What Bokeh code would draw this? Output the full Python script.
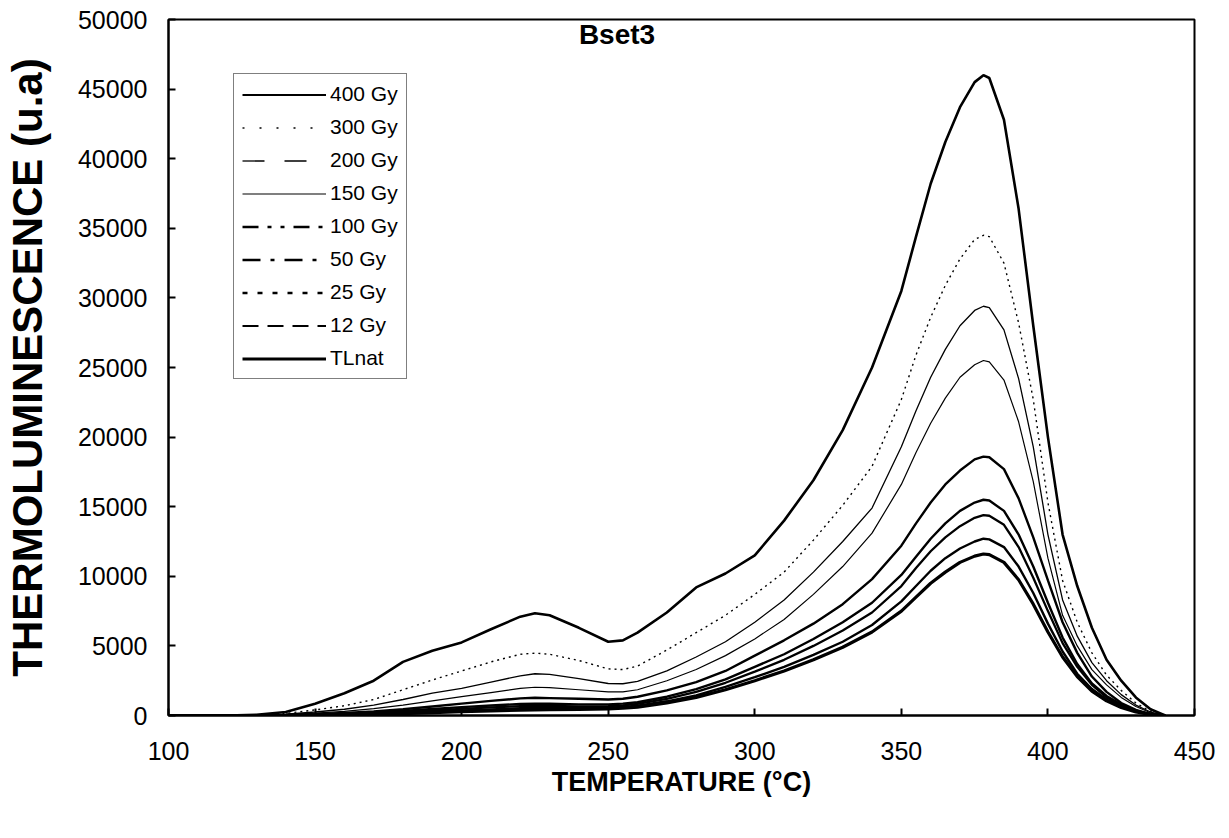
from bokeh.plotting import figure
from bokeh.models import Legend, LegendItem, Label, Range1d, FixedTicker, NumeralTickFormatter
from bokeh.embed import file_html
from bokeh.resources import INLINE

# ---------------- data ----------------
temperature = [100, 120, 130, 140, 150, 160, 170, 180, 190, 200,
               210, 220, 225, 230, 240, 250, 255, 260, 270, 280,
               290, 300, 310, 320, 330, 340, 350, 355, 360, 365,
               370, 375, 378, 380, 385, 390, 395, 400, 405, 410,
               415, 420, 425, 430, 435, 440]

gy400 = [0, 0, 50, 250, 850, 1600, 2500, 3850, 4650, 5250,
         6200, 7100, 7350, 7200, 6300, 5300, 5400, 5950, 7400, 9200,
         10200, 11500, 14000, 16900, 20500, 25000, 30500, 34400, 38200, 41200,
         43700, 45500, 46000, 45800, 42800, 36400, 28000, 20000, 13000, 9300,
         6300, 4000, 2500, 1300, 450, 0]

gy300 = [0, 0, 30, 150, 400, 700, 1150, 1850, 2550, 3200,
         3850, 4400, 4480, 4400, 3950, 3350, 3300, 3550, 4700, 5950,
         7200, 8700, 10300, 12600, 15100, 17900, 22700, 25900, 28600, 30900,
         32800, 34200, 34500, 34400, 32500, 28200, 22700, 15300, 9700, 6700,
         4500, 2900, 1800, 900, 300, 0]

gy200 = [0, 0, 20, 100, 250, 450, 750, 1150, 1600, 1950,
         2400, 2850, 3000, 2950, 2650, 2300, 2280, 2450, 3200, 4200,
         5300, 6700, 8300, 10300, 12500, 14900, 19300, 21900, 24300, 26300,
         28000, 29100, 29400, 29300, 27700, 24200, 19300, 13000, 8300, 5700,
         3800, 2500, 1500, 750, 250, 0]

gy150 = [0, 0, 15, 70, 170, 300, 500, 750, 1050, 1350,
         1650, 1950, 2030, 2000, 1850, 1700, 1700, 1850, 2500, 3300,
         4300, 5500, 6900, 8700, 10700, 13100, 16600, 18900, 21000, 22800,
         24300, 25200, 25500, 25400, 24100, 21100, 16800, 11300, 7200, 5000,
         3300, 2200, 1300, 650, 200, 0]

gy100 = [0, 0, 10, 40, 100, 180, 300, 450, 650, 850,
         1050, 1230, 1270, 1250, 1200, 1150, 1200, 1350, 1800, 2400,
         3200, 4300, 5400, 6600, 8000, 9800, 12200, 13800, 15300, 16600,
         17600, 18400, 18600, 18550, 17700, 15600, 12800, 9700, 6700, 4500,
         2800, 1700, 900, 400, 100, 0]

gy50 = [0, 0, 5, 30, 70, 130, 220, 330, 470, 600,
        720, 830, 850, 840, 800, 800, 850, 950, 1350, 1900,
        2600, 3500, 4400, 5500, 6700, 8100, 10100, 11400, 12700, 13800,
        14700, 15300, 15500, 15450, 14700, 13000, 10700, 8100, 5600, 3700,
        2300, 1400, 780, 340, 90, 0]

gy25 = [0, 0, 0, 20, 50, 100, 170, 260, 370, 480,
        580, 670, 700, 690, 660, 680, 730, 830, 1200, 1700,
        2350, 3150, 4000, 5000, 6100, 7400, 9300, 10600, 11800, 12800,
        13600, 14200, 14400, 14350, 13700, 12100, 9900, 7500, 5200, 3500,
        2200, 1300, 720, 320, 90, 0]

gy12 = [0, 0, 0, 15, 35, 70, 120, 190, 270, 360,
        440, 520, 540, 540, 530, 560, 610, 700, 1020, 1450,
        2050, 2750, 3500, 4350, 5300, 6500, 8200, 9300, 10400, 11300,
        12000, 12500, 12700, 12650, 12100, 10700, 8800, 6600, 4600, 3000,
        1900, 1150, 640, 280, 80, 0]

tlnat = [0, 0, 0, 10, 25, 50, 90, 140, 200, 270,
         330, 390, 410, 420, 430, 470, 520, 600, 900, 1300,
         1850, 2500, 3200, 4000, 4900, 6000, 7500, 8500, 9500, 10300,
         11000, 11450, 11600, 11560, 11000, 9750, 8000, 6000, 4200, 2800,
         1750, 1050, 580, 250, 70, 0]

labels = ["400 Gy", "300 Gy", "200 Gy", "150 Gy", "100 Gy", "50 Gy", "25 Gy", "12 Gy", "TLnat"]
values = [gy400, gy300, gy200, gy150, gy100, gy50, gy25, gy12, tlnat]

x_ticks = [100, 150, 200, 250, 300, 350, 400, 450]
y_ticks = [0, 5000, 10000, 15000, 20000, 25000, 30000, 35000, 40000, 45000, 50000]

# ---------------- styles ----------------
# (curve dash, curve width, legend dash, legend width)
styles = [("solid", 2.6, "solid", 2.2),
          ("2 4", 1.4, "2 15", 1.4),
          ("solid", 1.3, "22 20", 1.3),
          ("solid", 1.2, "solid", 1.1),
          ("solid", 2.4, "16 9 4 9 4 9", 2.4),
          ("solid", 2.4, "18 10 4 10", 2.6),
          ("solid", 2.3, "5 10", 2.6),
          ("solid", 2.4, "16 9", 2.2),
          ("solid", 3.2, "solid", 3.0)]

FONT = "Liberation Sans"

p = figure(width=1221, height=830, output_backend="svg", toolbar_location=None,
           x_range=Range1d(100, 450), y_range=Range1d(0, 50000),
           min_border_left=167, min_border_right=27, min_border_top=19, min_border_bottom=115)
p.background_fill_color = "white"
p.border_fill_color = "white"
p.outline_line_color = "black"
p.outline_line_width = 2
p.xgrid.visible = False
p.ygrid.visible = False

for ax in (p.xaxis[0], p.yaxis[0]):
    ax.axis_line_width = 2
    ax.axis_line_color = "black"
    ax.major_tick_in = 7
    ax.major_tick_out = 0
    ax.major_tick_line_width = 2
    ax.major_tick_line_color = "black"
    ax.minor_tick_line_color = None
    ax.major_label_text_font = FONT
    ax.major_label_text_font_size = "25px"
    ax.major_label_text_color = "black"
    ax.axis_label_text_font = FONT
    ax.axis_label_text_font_style = "bold"
    ax.axis_label_text_color = "black"

p.xaxis.ticker = FixedTicker(ticks=x_ticks)
p.yaxis.ticker = FixedTicker(ticks=y_ticks)
p.yaxis.formatter = NumeralTickFormatter(format="0")
p.xaxis.major_label_standoff = 26
p.yaxis.major_label_standoff = 21
p.xaxis.axis_label = "TEMPERATURE (°C)"
p.xaxis.axis_label_text_font_size = "27px"
p.xaxis.axis_label_standoff = 4
p.yaxis.axis_label = "THERMOLUMINESCENCE (u.a)"
p.yaxis.axis_label_text_font_size = "42px"
p.yaxis.axis_label_standoff = 24

items = []
for lab, vals, (cdash, cw, ldash, lw) in zip(labels, values, styles):
    p.line(temperature, vals, line_color="black", line_width=cw, line_dash=cdash)
    # one-point line: draws nothing in the plot, only gives the legend its dash sample
    r = p.line(temperature[:1], vals[:1], line_color="black", line_width=lw, line_dash=ldash)
    items.append(LegendItem(label=lab, renderers=[r]))

legend = Legend(items=items, location=(65, 336), orientation="vertical")
legend.margin = 0
legend.padding = 8
legend.spacing = 9
legend.label_height = 21
legend.glyph_height = 21
legend.glyph_width = 84
legend.label_standoff = 4
legend.label_text_font = FONT
legend.label_text_font_size = "21px"
legend.label_text_color = "black"
legend.border_line_color = "black"
legend.border_line_width = 1
legend.background_fill_color = "white"
legend.background_fill_alpha = 1.0
p.add_layout(legend, "center")

title = Label(x=253, y=48890, text="Bset3", text_font=FONT, text_font_size="28px",
              text_font_style="bold", text_align="center", text_baseline="middle",
              text_color="black")
p.add_layout(title)

open("out.html", "w").write(file_html(p, INLINE))
